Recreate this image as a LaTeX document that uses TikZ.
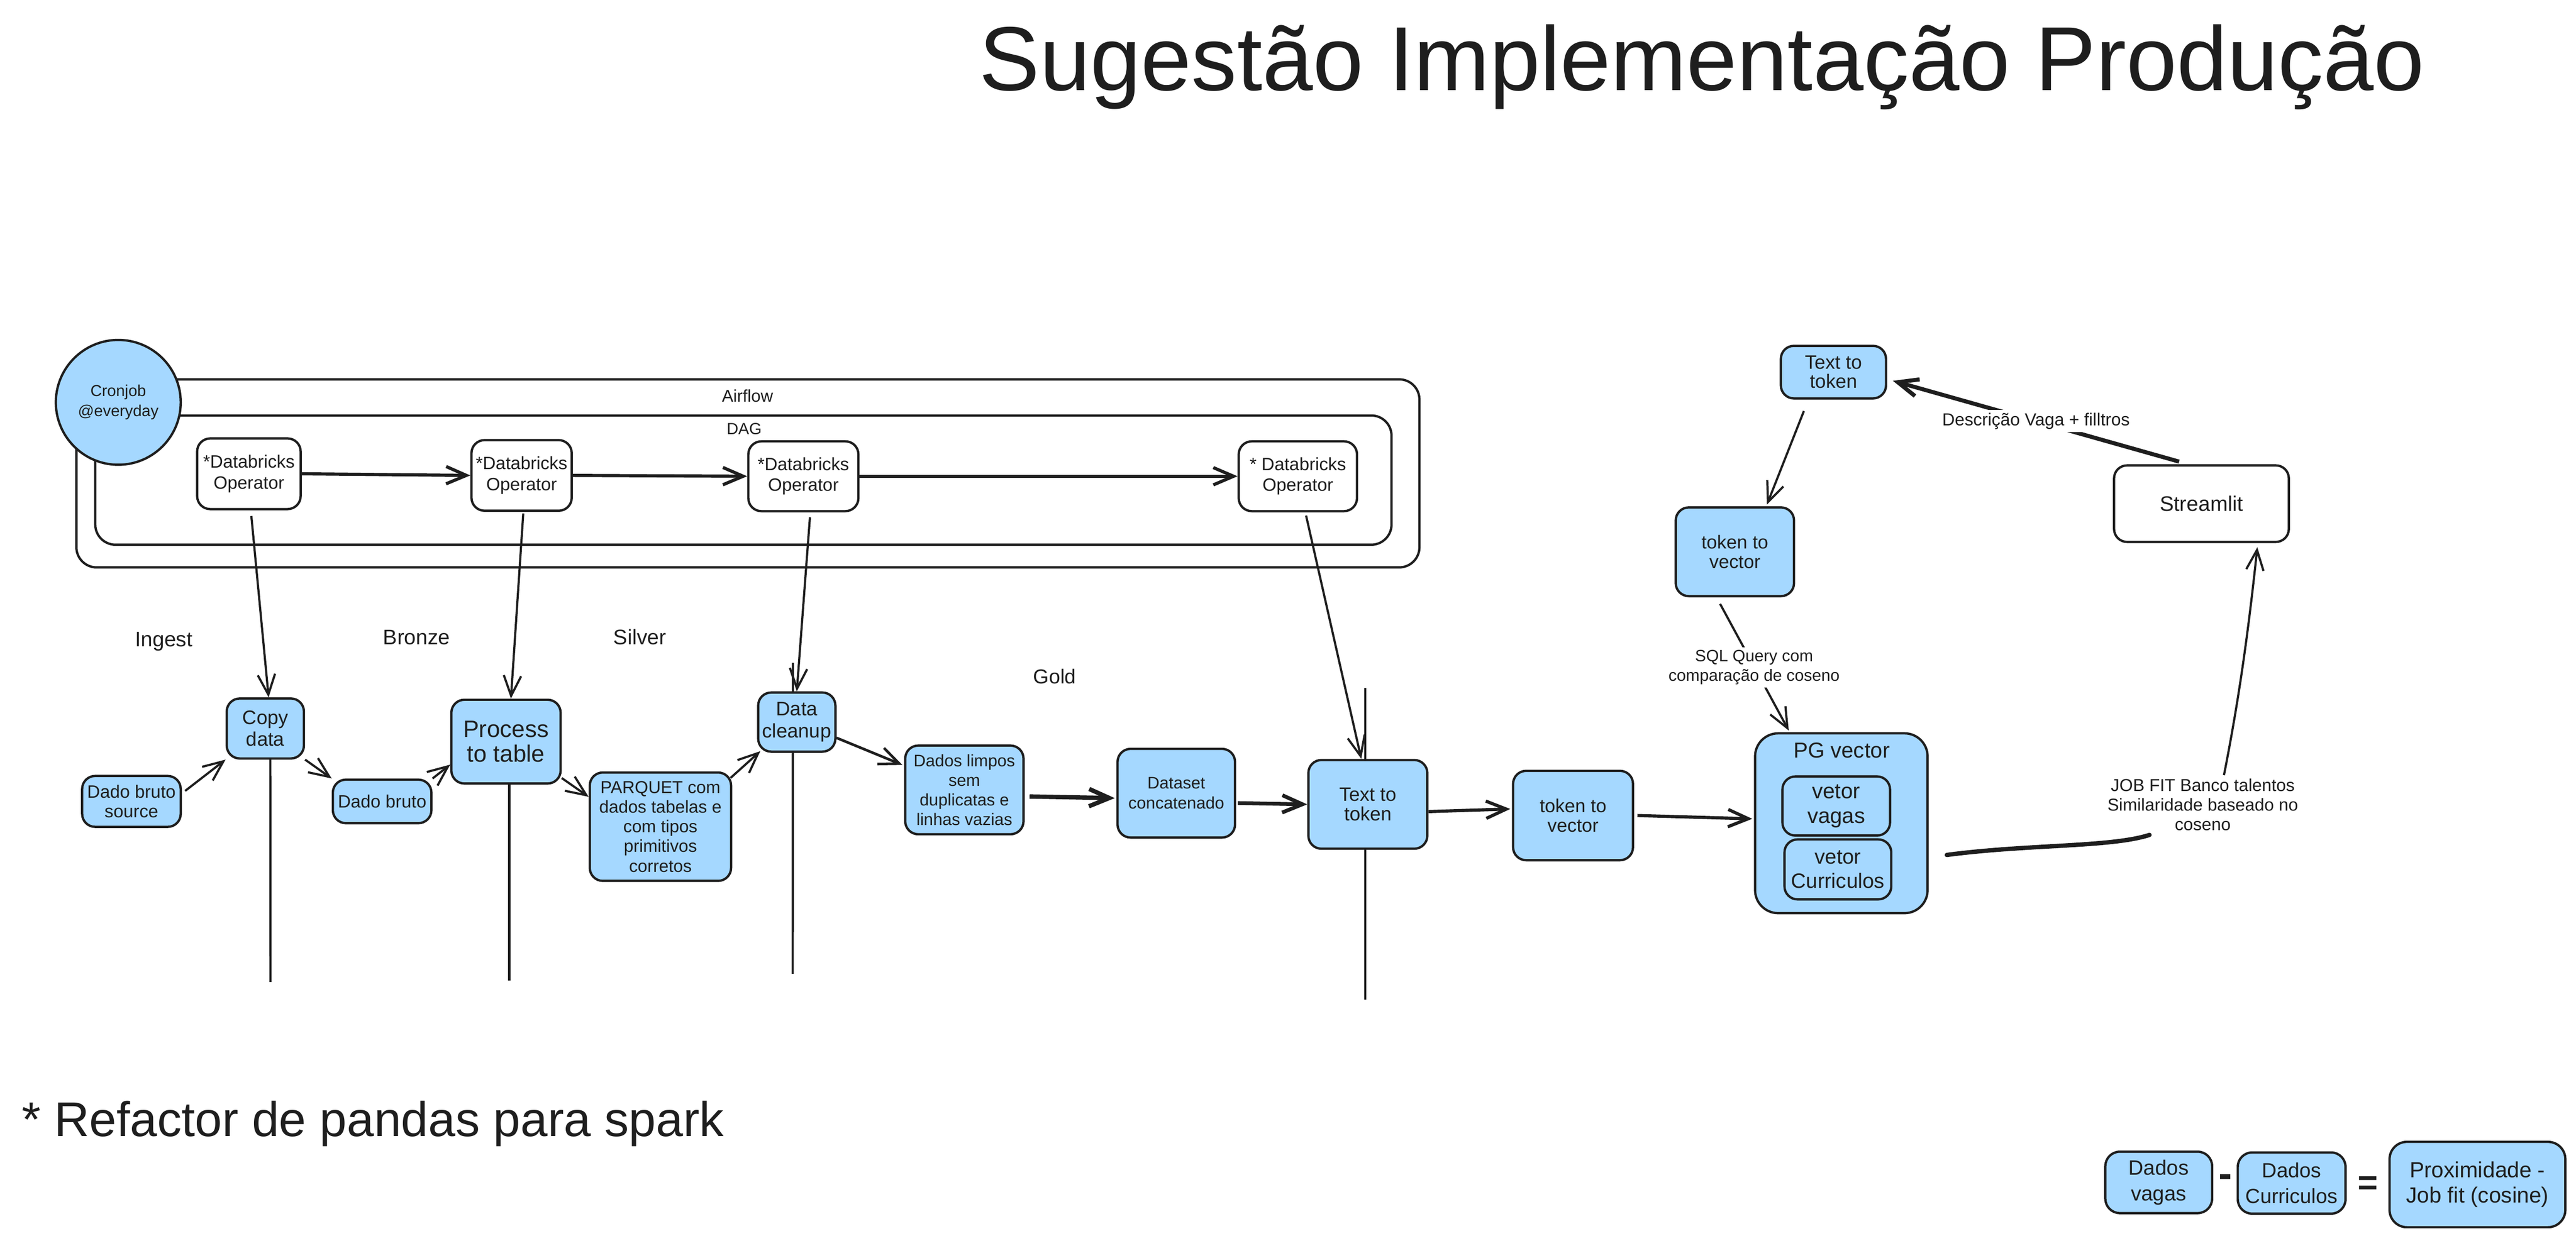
\documentclass[tikz,border=0pt]{standalone}
\usepackage{fontspec}
\setmainfont{Liberation Sans}
\usetikzlibrary{arrows.meta,backgrounds}
\pgfdeclarelayer{bottom}
\pgfsetlayers{bottom,background,main}
\definecolor{ink}{HTML}{1E1E1E}
\definecolor{skyb}{HTML}{A5D8FF}
\newcommand\myfs[2]{\fontsize{#1}{#2}\selectfont}
\begin{document}
\begin{tikzpicture}[x=0.02cm,y=-0.02cm,
  every node/.style={text=ink},
  bx/.style={draw=ink, line width=0.8pt, rounded corners=4.5pt, align=center, inner sep=0pt},
  bluebox/.style={bx, fill=skyb},
  whitebox/.style={bx, fill=white},
  sz/.style 2 args={minimum width={#1*0.02cm}, minimum height={#2*0.02cm}},
  container/.style={draw=ink, line width=0.8pt, rounded corners=7pt, inner sep=0pt},
  lbl/.style={inner sep=1pt, align=center},
  arr/.style={draw=ink, line width=0.75pt, -{Straight Barb[length=7pt,width=6pt]}},
  arrb/.style={arr, line width=1.1pt},
  life/.style={draw=ink, line width=0.75pt},
]
\begin{pgfonlayer}{bottom}
\fill[white] (0,0) rectangle (1568,752.33);
\end{pgfonlayer}
\useasboundingbox (0,0) rectangle (1568,752.33);

% title and notes
\node[anchor=base, font=\myfs{31.5}{36}] (title) at (1036,55) {Sugestão Implementação Produção};
\node[anchor=base west, font=\myfs{16.9}{20}] (note) at (7,692) {* Refactor de pandas para spark};

% containers
\node[container, sz={817.5}{114.5}] (airflow) at (455.25,288.25) {};
\node[container, sz={789}{78.7}] (dag) at (452.5,292.35) {};
\node[lbl, font=\myfs{5.9}{7}] (airflowlbl) at (455,241) {Airflow};
\node[lbl, font=\myfs{5.6}{7}] (daglbl) at (453,261) {DAG};

\node[circle, draw=ink, fill=skyb, line width=0.8pt, minimum size={76*0.02cm}, inner sep=0pt, align=center, font=\myfs{5.5}{7}] (cron) at (72,245) {Cronjob\\@everyday};

% operators
\node[whitebox, sz={63}{43}, font=\myfs{6.2}{7.2}] (op1) at (151.5,288.5) {*Databricks\\Operator};
\node[whitebox, sz={61}{43}, font=\myfs{6.2}{7.2}] (op2) at (317.5,289.5) {*Databricks\\Operator};
\node[whitebox, sz={67}{42.5}, font=\myfs{6.2}{7.2}] (op3) at (489,290) {*Databricks\\Operator};
\node[whitebox, sz={72}{42.5}, font=\myfs{6.2}{7.2}] (op4) at (790,290) {* Databricks\\Operator};

% stage labels
\node[lbl, font=\myfs{7.3}{8}] (ingest) at (99.7,390.6) {Ingest};
\node[lbl, font=\myfs{7.3}{8}] (bronze) at (253.6,388.2) {Bronze};
\node[lbl, font=\myfs{7.3}{8}] (silver) at (389.5,387.8) {Silver};
\node[lbl, font=\myfs{7}{8}] (gold) at (642,412) {Gold};

% pipeline boxes
\node[bluebox, sz={60}{31}, font=\myfs{6.2}{6.8}] (src) at (80,488) {Dado bruto\\source};
\node[bluebox, sz={47}{36.5}, font=\myfs{6.8}{7.6}] (copy) at (161.5,443.6) {Copy\\data};
\node[bluebox, sz={60}{26.5}, font=\myfs{6.2}{6.8}] (dado) at (232.6,488) {Dado bruto};
\node[bluebox, sz={66.5}{51}, font=\myfs{8.2}{8.6}] (process) at (308,451.6) {Process\\to table};
\node[bluebox, sz={86}{66}, font=\myfs{6}{6.8}] (parquet) at (402,503.4) {PARQUET com\\dados tabelas e\\com tipos\\primitivos\\corretos};
\node[bluebox, sz={47}{36}, font=\myfs{6.8}{7.6}] (cleanup) at (485,439.7) {Data\\cleanup};
\node[bluebox, sz={72}{54}, font=\myfs{5.8}{6.8}] (limpos) at (587,481) {Dados limpos\\sem\\duplicatas e\\linhas vazias};
\node[bluebox, sz={71.5}{54}, font=\myfs{5.8}{6.9}] (dataset) at (716,483) {Dataset\\concatenado};
\node[bluebox, sz={72.4}{54}, font=\myfs{6.7}{6.9}] (ttt) at (832.6,489.8) {Text to\\token};
\node[bluebox, sz={73}{54.4}, font=\myfs{6.5}{6.9}] (t2v) at (957.5,496.6) {token to\\vector};
\node[bluebox, sz={105}{109.5}, rounded corners=8pt] (pg) at (1120.8,501.3) {};
\node[lbl, font=\myfs{7.5}{8.5}] (pgl) at (1121,457) {PG vector};
\node[bluebox, sz={65.5}{36}, font=\myfs{7.5}{8.5}] (vv) at (1117.7,490.8) {vetor\\vagas};
\node[bluebox, sz={65}{36.5}, font=\myfs{7.2}{8.5}] (vc) at (1118.7,529.4) {vetor\\Curriculos};

% right loop
\node[bluebox, sz={64}{32}, font=\myfs{6.7}{6.6}] (tt2) at (1116,226.6) {Text to\\token};
\node[bluebox, sz={72}{54}, font=\myfs{6.5}{6.8}] (tv2) at (1056,336) {token to\\vector};
\node[whitebox, sz={106.4}{46.6}, font=\myfs{7.3}{8}] (stream) at (1340,306.7) {Streamlit};
\node[lbl, fill=white, font=\myfs{6.05}{7}] (desc) at (1239.3,256.5) {Descrição Vaga + filltros};
\node[lbl, fill=white, font=\myfs{5.7}{6.8}] (sql) at (1067.7,406.4) {SQL Query com\\comparação de coseno};
\node[lbl, font=\myfs{6}{6.8}] (jobfit) at (1340.8,490) {JOB FIT Banco talentos\\Similaridade baseado no\\coseno};

% legend
\node[bluebox, sz={65}{37.4}, rounded corners=5pt, font=\myfs{7.2}{8.8}] (lv) at (1314,720) {Dados\\vagas};
\node[bluebox, sz={65.6}{37.3}, rounded corners=5pt, font=\myfs{7.1}{8.8}] (lc) at (1394.9,720.4) {Dados\\Curriculos};
\node[bluebox, sz={107}{52}, rounded corners=6pt, font=\myfs{7.6}{8.8}] (lp) at (1508,721.3) {Proximidade -\\Job fit (cosine)};
\node[lbl, font=\bfseries\myfs{14}{14}] (minus) at (1354.7,719) {-};
\node[lbl, font=\bfseries\myfs{12}{12}] (equal) at (1441.3,722) {=};

% coordinates
\coordinate (copyend) at (164.6,598);
\coordinate (procend) at (310,597);
\coordinate (cltop) at (482.6,403.6);
\coordinate (clend) at (482.5,593);
\coordinate (tttop) at (831,419);
\coordinate (ttend) at (831,608.6);
\coordinate (jfin) at (1308.4,508.4);
\coordinate (jfout) at (1353.7,472);

\begin{scope}[on background layer]
% lifelines
\draw[life] ([shift={(3,0)}]copy.north) -- (copyend);
\draw[life] ([shift={(2,0)}]process.north) -- (procend);
\draw[life] (cltop) -- (clend);
\draw[life] (tttop) -- (ttend);
% operator chain
\draw[arrb] (op1.east) -- (op2.west);
\draw[arrb] (op2.east) -- (op3.west);
\draw[arrb] (op3.east) -- (op4.west);
\draw[arr] ([shift={(1.5,3.5)}]op1.south) -- ([shift={(2,0)}]copy.north);
\draw[arr] ([shift={(1,1)}]op2.south) -- ([shift={(3,0)}]process.north);
\draw[arr] ([shift={(4,3)}]op3.south) -- (cleanup.north);
\draw[arr] ([shift={(5,2)}]op4.south) -- ([shift={(-4,0)}]ttt.north);
% pipeline
\draw[arr] ([shift={(2,-6.4)}]src.east) -- (copy.south west);
\draw[arr] (copy.south east) -- (dado.north west);
\draw[arr] (dado.north east) -- ([shift={(0,14)}]process.west);
\draw[arr] ([shift={(0,-4)}]process.south east) -- ([shift={(0,15.5)}]parquet.north west);
\draw[arr] ([shift={(-1,4)}]parquet.north east) -- ([shift={(2,-1)}]cleanup.south west);
\draw[arr, line width=0.9pt] ([shift={(0,9.6)}]cleanup.east) -- ([shift={(-1,12.5)}]limpos.north west);
\draw[arrb, line width=1.5pt] ([shift={(3,4)}]limpos.east) -- ([shift={(-1,3)}]dataset.west);
\draw[arrb, line width=1.3pt] ([shift={(1,6)}]dataset.east) -- (ttt.west);
\draw[arrb] ([shift={(0,4.4)}]ttt.east) -- ([shift={(-1,-4)}]t2v.west);
\draw[arrb] ([shift={(2,0)}]t2v.east) -- ([shift={(-1,-2.7)}]pg.west);
% right loop
\draw[arrb, line width=1.4pt] ([shift={(-13.6,-1.6)}]stream.north) -- ([shift={(3.5,5.3)}]tt2.east);
\draw[arr] ([shift={(-18,7)}]tt2.south) -- ([shift={(19.5,-1)}]tv2.north);
\draw[arr] ([shift={(-9,4)}]tv2.south) -- ([shift={(-32,-1)}]pg.north);
\draw[draw=ink, line width=1.5pt, line cap=round] ([shift={(11,19.3)}]pg.east) .. controls (1235,514) and (1285,516) .. (jfin);
\draw[arr] (jfout) .. controls (1362,430) and (1368,390) .. ([shift={(34,2.5)}]stream.south);
\end{scope}
\end{tikzpicture}
\end{document}
